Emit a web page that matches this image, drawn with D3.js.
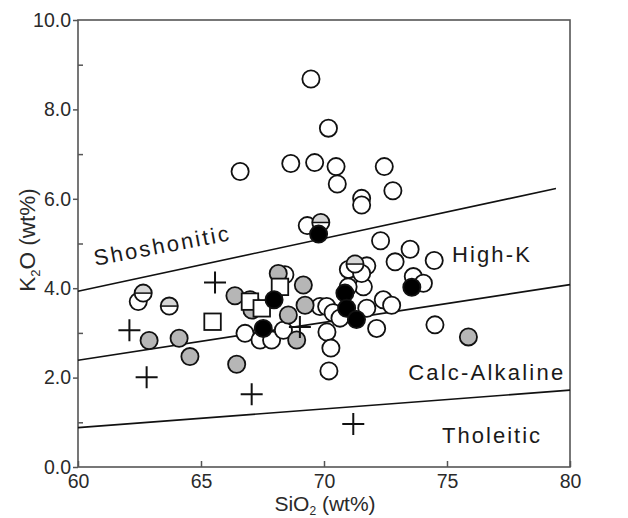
<!DOCTYPE html>
<html>
<head>
<meta charset="utf-8">
<script src="https://cdn.jsdelivr.net/npm/d3@7"></script>
<style>
  html, body { margin: 0; padding: 0; background: #fff; }
  svg { display: block; font-family: "Liberation Sans", Arial, Helvetica, sans-serif; }
</style>
</head>
<body>
<svg id="chart" width="628" height="518"></svg>
<script>
// SiO2 vs K2O classification diagram (wt%)
const xTicks = [60, 65, 70, 75, 80];
const yTicks = [0, 2, 4, 6, 8, 10];
const yMinorTicks = [1, 3, 5, 7, 9];

// Boundary lines: [SiO2, K2O] end points
const lineShoHK = [[60, 3.93], [79.43, 6.23]];
const lineHKCA = [[60, 2.39], [80, 4.08]];
const lineCATh = [[60, 0.88], [80, 1.72]];

// Field names and the point they are anchored at
const fieldNames = ["Shoshonitic", "High-K", "Calc-Alkaline", "Tholeitic"];
const fieldAnchors = [[60.7, 4.5], [75.2, 4.58], [73.42, 1.95], [74.8, 0.54]];

// Samples by symbol: [SiO2, K2O]
const openCircles = [
  [69.47, 8.68], [70.18, 7.58], [68.65, 6.79], [69.62, 6.81], [70.49, 6.72],
  [70.54, 6.33], [72.45, 6.72], [72.80, 6.18], [71.53, 6.01], [71.53, 5.86],
  [66.59, 6.61], [69.32, 5.40], [72.30, 5.06], [73.50, 4.87], [74.48, 4.62],
  [72.89, 4.59], [73.63, 4.26], [74.04, 4.11], [72.41, 3.74], [72.75, 3.62],
  [72.14, 3.10], [71.74, 3.55], [74.51, 3.18], [71.60, 4.03], [71.74, 4.50],
  [70.99, 4.42], [71.53, 4.33], [70.98, 4.03], [69.84, 3.59], [70.11, 3.59],
  [70.37, 3.45], [70.65, 3.33], [70.12, 3.02], [70.28, 2.66], [70.20, 2.15],
  [62.45, 3.70], [66.99, 3.74], [68.41, 4.30], [66.79, 2.99], [67.40, 2.84],
  [67.87, 2.84], [68.35, 3.06]
];
const halfCircles = [[62.65, 3.89], [63.71, 3.60], [69.87, 5.47], [71.26, 4.54]];
const grayCircles = [
  [62.89, 2.83], [64.11, 2.88], [64.55, 2.47], [66.38, 3.83], [66.45, 2.30],
  [68.14, 4.33], [69.16, 4.07], [67.07, 3.51], [68.55, 3.40], [69.23, 3.62],
  [68.89, 2.84], [75.87, 2.91]
];
const squares = [[65.47, 3.25], [68.21, 4.03], [66.99, 3.70], [67.47, 3.55]];
const blackCircles = [
  [69.78, 5.21], [67.97, 3.74], [67.53, 3.10], [70.85, 3.89], [70.92, 3.55],
  [71.32, 3.30], [73.57, 4.02]
];
const crosses = [[62.09, 3.06], [62.79, 2.01], [65.57, 4.13], [67.06, 1.63], [69.02, 3.13], [71.19, 0.96]];

const svg = d3.select("#chart");
const plotL = 78, plotR = 570, plotT = 20, plotB = 467;
const x = d3.scaleLinear().domain([60, 80]).range([plotL, plotR]);
const y = d3.scaleLinear().domain([0, 10]).range([plotB, plotT]);

const axisColor = "#555";
const textColor = "#2a2a2a";

// frame
svg.append("rect")
  .attr("x", plotL).attr("y", plotT)
  .attr("width", plotR - plotL).attr("height", plotB - plotT)
  .attr("fill", "none").attr("stroke", axisColor).attr("stroke-width", 1.6);

// y axis: labelled ticks outside, minor ticks inside
const yAxis = svg.append("g").attr("transform", `translate(${plotL},0)`)
  .call(d3.axisLeft(y).tickValues(yTicks).tickFormat(d3.format(".1f"))
    .tickSizeInner(5).tickSizeOuter(0).tickPadding(2));
yAxis.select(".domain").remove();
yAxis.selectAll("line").attr("stroke", axisColor).attr("stroke-width", 1.5);
yAxis.selectAll("text").attr("fill", textColor).attr("font-size", 19.5)
  .attr("font-family", "Liberation Sans, Arial, sans-serif");

const yMinor = svg.append("g").attr("transform", `translate(${plotL},0)`)
  .call(d3.axisRight(y).tickValues(yMinorTicks).tickFormat("").tickSizeInner(5).tickSizeOuter(0));
yMinor.select(".domain").remove();
yMinor.selectAll("line").attr("stroke", axisColor).attr("stroke-width", 1.5);

// x axis: ticks pointing into the plot
const xAxis = svg.append("g").attr("transform", `translate(0,${plotB})`)
  .call(d3.axisBottom(x).tickValues(xTicks).tickFormat(d3.format("d"))
    .tickSizeInner(-6).tickSizeOuter(0).tickPadding(7));
xAxis.select(".domain").remove();
xAxis.selectAll("line").attr("stroke", axisColor).attr("stroke-width", 1.5);
xAxis.selectAll("text").attr("fill", textColor).attr("font-size", 19.5)
  .attr("font-family", "Liberation Sans, Arial, sans-serif");

// axis titles
const xTitle = svg.append("text")
  .attr("x", (plotL + plotR) / 2 + 1).attr("y", 511)
  .attr("text-anchor", "middle").attr("font-size", 21).attr("fill", textColor);
xTitle.append("tspan").text("SiO");
xTitle.append("tspan").attr("font-size", 12).attr("dy", 4).text("2");
xTitle.append("tspan").attr("dy", -4).text(" (wt%)");

const yTitle = svg.append("text")
  .attr("transform", "translate(35,240) rotate(-90)")
  .attr("text-anchor", "middle").attr("font-size", 22.5).attr("fill", textColor);
yTitle.append("tspan").text("K");
yTitle.append("tspan").attr("font-size", 13).attr("dy", 5).text("2");
yTitle.append("tspan").attr("dy", -5).text("O (wt%)");

// boundary lines
const line = d3.line().x(d => x(d[0])).y(d => y(d[1]));
[lineShoHK, lineHKCA, lineCATh].forEach(pts => {
  svg.append("path").attr("d", line(pts))
    .attr("fill", "none").attr("stroke", "#111").attr("stroke-width", 1.6);
});

// field names
const slope = Math.atan2(y(lineShoHK[1][1]) - y(lineShoHK[0][1]), x(lineShoHK[1][0]) - x(lineShoHK[0][0])) * 180 / Math.PI;
const nameLengths = [137, 78, 155, 98];
fieldNames.forEach((name, i) => {
  const [ax, ay] = fieldAnchors[i];
  const t = svg.append("text")
    .attr("x", x(ax)).attr("y", y(ay))
    .attr("font-size", 22).attr("fill", "#1a1a1a")
    .attr("textLength", nameLengths[i]).attr("lengthAdjust", "spacing")
    .text(name);
  if (i === 0) t.attr("transform", `rotate(${slope + 1.5},${x(ax)},${y(ay)})`);
});

// symbols
const rad = 8.6;
const marks = svg.append("g");

function circles(data, fill) {
  marks.selectAll(null).data(data).join("circle")
    .attr("cx", d => x(d[0])).attr("cy", d => y(d[1])).attr("r", rad)
    .attr("fill", fill).attr("stroke", "#111").attr("stroke-width", 1.8);
}

circles(openCircles, "#fff");

// half-shaded circles: light upper half, line across the middle
const half = marks.selectAll(null).data(halfCircles).join("g")
  .attr("transform", d => `translate(${x(d[0])},${y(d[1])})`);
half.append("circle").attr("r", rad).attr("fill", "#fff");
half.append("path")
  .attr("d", `M${-rad},0 A${rad},${rad} 0 0 1 ${rad},0 Z`)
  .attr("fill", "#d6d6d6");
half.append("line").attr("x1", -rad).attr("x2", rad).attr("y1", 0).attr("y2", 0)
  .attr("stroke", "#111").attr("stroke-width", 1.5);
half.append("circle").attr("r", rad).attr("fill", "none")
  .attr("stroke", "#111").attr("stroke-width", 1.8);

circles(grayCircles, "#b6b6b6");

const side = 16.5;
marks.selectAll(null).data(squares).join("rect")
  .attr("x", d => x(d[0]) - side / 2).attr("y", d => y(d[1]) - side / 2)
  .attr("width", side).attr("height", side)
  .attr("fill", "#fff").attr("stroke", "#111").attr("stroke-width", 1.8);

circles(blackCircles, "#000");

const arm = 11;
marks.selectAll(null).data(crosses).join("path")
  .attr("d", d => {
    const cx = x(d[0]), cy = y(d[1]);
    return `M${cx - arm},${cy}H${cx + arm}M${cx},${cy - arm}V${cy + arm}`;
  })
  .attr("stroke", "#111").attr("stroke-width", 2).attr("fill", "none");
</script>
</body>
</html>
